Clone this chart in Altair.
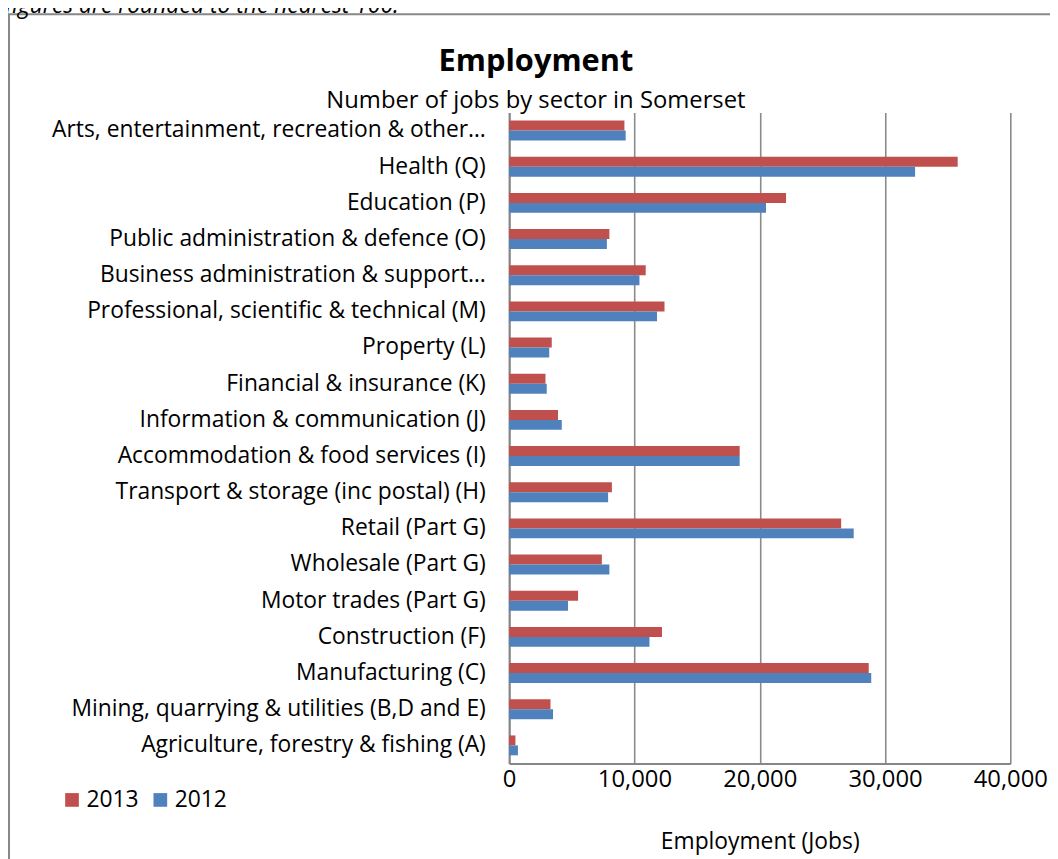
import altair as alt
import pandas as pd

FONT = "Open Sans"

sectors = [
    "Arts, entertainment, recreation & other…",
    "Health (Q)",
    "Education (P)",
    "Public administration & defence (O)",
    "Business administration & support…",
    "Professional, scientific & technical (M)",
    "Property (L)",
    "Financial & insurance (K)",
    "Information & communication (J)",
    "Accommodation & food services (I)",
    "Transport & storage (inc postal) (H)",
    "Retail (Part G)",
    "Wholesale (Part G)",
    "Motor trades (Part G)",
    "Construction (F)",
    "Manufacturing (C)",
    "Mining, quarrying & utilities (B,D and E)",
    "Agriculture, forestry & fishing (A)",
]
jobs_2013 = [9200, 35800, 22100, 8000, 10900, 12400, 3400, 2900, 3900, 18400,
             8200, 26500, 7400, 5500, 12200, 28700, 3300, 500]
jobs_2012 = [9300, 32400, 20500, 7800, 10400, 11800, 3200, 3000, 4200, 18400,
             7900, 27500, 8000, 4700, 11200, 28900, 3500, 700]
years = ["2013", "2012"]
year_colors = ["#C0504D", "#4F81BD"]
x_ticks = [0, 10000, 20000, 30000, 40000]
title_text = "Employment"
subtitle_text = "Number of jobs by sector in Somerset"
note = "figures are rounded to the nearest 100."

rows = []
for s, a, b in zip(sectors, jobs_2013, jobs_2012):
    rows.append({"sector": s, "year": years[0], "jobs": a})
    rows.append({"sector": s, "year": years[1], "jobs": b})
df = pd.DataFrame(rows)

FS = 23

bars = alt.Chart(df).mark_bar().encode(
    y=alt.Y(
        "sector:N",
        sort=sectors,
        scale=alt.Scale(paddingInner=0.45, paddingOuter=0.225),
        axis=alt.Axis(
            title=None, labelFontSize=FS, labelPadding=24, ticks=False,
            domainColor="#868686", domainWidth=2, labelLimit=700,
            labelColor="black", labelFont=FONT,
        ),
    ),
    yOffset=alt.YOffset("year:N", sort=years),
    x=alt.X(
        "jobs:Q",
        scale=alt.Scale(domain=[0, 40000], nice=False),
        axis=alt.Axis(
            values=x_ticks, format=",.0f", title="Employment (Jobs)",
            grid=True, gridColor="#8a8a8a", gridWidth=1.6, ticks=False,
            domainColor="#868686", domainWidth=2, labelFlush=False,
            labelOverlap=False,
            labelFontSize=24, labelFont=FONT, labelColor="black", labelPadding=4,
            titleFontSize=FS, titleFont=FONT, titleFontWeight="normal",
            titleColor="black", titlePadding=40,
        ),
    ),
    color=alt.Color(
        "year:N",
        scale=alt.Scale(domain=years, range=year_colors),
        legend=alt.Legend(
            title=None, orient="none", legendX=-452, legendY=681,
            direction="horizontal", symbolType="square", symbolSize=190,
            symbolStrokeWidth=0, labelFontSize=FS, labelFont=FONT,
            labelColor="black", columnPadding=10, labelOffset=3,
        ),
    ),
)

one = pd.DataFrame({"k": [0]})

frame = alt.Chart(one).mark_rect(
    fill=None, stroke="#888888", strokeWidth=2
).encode(
    x=alt.value(-504), x2=alt.value(620), y=alt.value(-99), y2=alt.value(820)
)

title_mark = alt.Chart(one).mark_text(
    text=title_text, font=FONT, fontSize=31, fontWeight="bold",
    align="center", baseline="middle", color="black"
).encode(x=alt.value(27), y=alt.value(-51))

subtitle_mark = alt.Chart(one).mark_text(
    text=subtitle_text, font=FONT, fontSize=24,
    align="center", baseline="middle", color="black"
).encode(x=alt.value(27), y=alt.value(-11))

note_text = alt.Chart(one).mark_text(
    text=note, font=FONT, fontSize=FS, fontStyle="italic", align="left",
    baseline="alphabetic", color="black"
).encode(x=alt.value(-508), y=alt.value(-100))

chart = alt.layer(frame, bars, title_mark, subtitle_mark, note_text).properties(
    width=505,
    height=656,
    autosize=alt.AutoSizeParams(type="none"),
    padding={"left": 505, "top": 102, "right": 40, "bottom": 93},
).configure_view(stroke=None)

chart.save("out.html", embed_options={"renderer": "svg", "actions": False})
